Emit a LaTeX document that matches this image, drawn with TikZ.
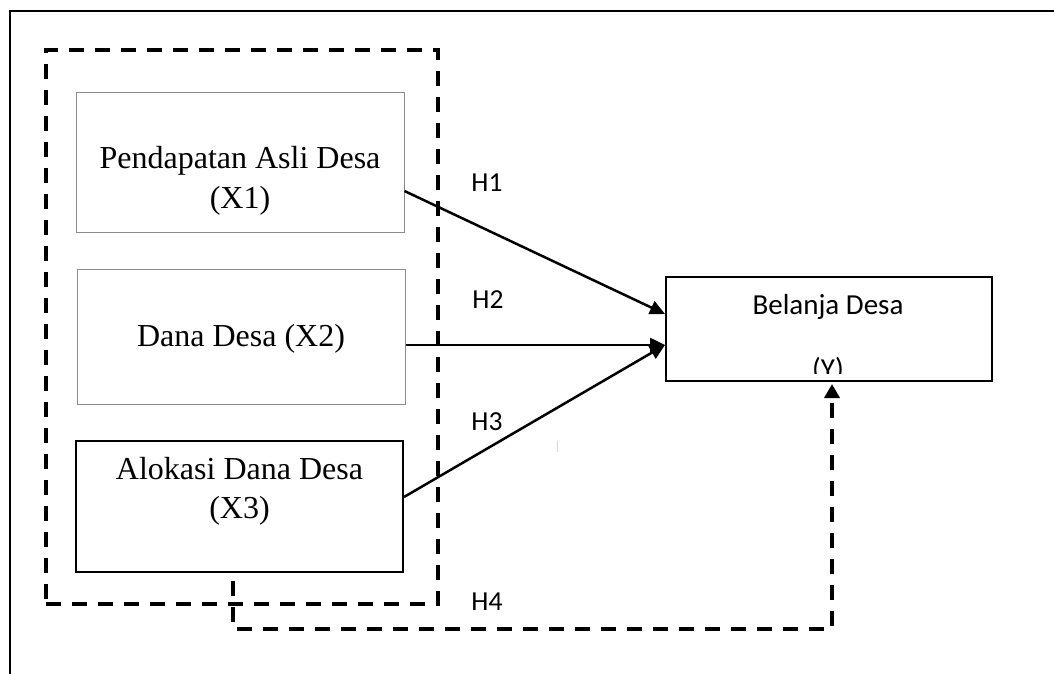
\documentclass[tikz,border=0pt]{standalone}
\usepackage{fontspec}
\setmainfont{Liberation Serif}
\newfontfamily\calib{Carlito}
\usetikzlibrary{arrows.meta}
\begin{document}
\begin{tikzpicture}[x=1pt,y=-1pt,
  varbox/.style={draw,rectangle,inner sep=0pt},
  greybox/.style={varbox,draw=black!45,line width=1pt},
  blackbox/.style={varbox,draw=black,line width=2pt},
  serif/.style={font=\fontsize{32}{40}\selectfont,inner sep=0pt,anchor=base},
  sanslbl/.style={font=\calib\fontsize{27.5}{30}\selectfont,inner sep=0pt},
  ylbl/.style={font=\calib\fontsize{29}{32}\selectfont,inner sep=0pt,anchor=base},
  groupbox/.style={draw,rectangle,line width=3.5pt,dash pattern=on 15pt off 11pt,inner sep=0pt},
  dashline/.style={line width=3.5pt,dash pattern=on 15pt off 11pt},
  arr/.style={line width=2.5pt,-{Triangle[length=15pt,width=14pt]}},
  darr/.style={dashline,-{Triangle[length=14pt,width=15pt]}}
]
\useasboundingbox (0,0) rectangle (1054,674);
% outer frame (top and left edges)
\draw[line width=2pt] (10,674) -- (10,11) -- (1054,11);

% dashed group box
\node[groupbox,minimum width=392pt,minimum height=554pt] (grp) at (242,327) {};

% variable boxes
\node[greybox,minimum width=328pt,minimum height=139pt,fill=white] (X1) at (240,162.5) {};
\node[greybox,minimum width=328pt,minimum height=135pt,fill=white] (X2) at (241,336.5) {};
\node[blackbox,minimum width=327pt,minimum height=131pt,fill=white] (X3) at (239.5,506.5) {};
\node[blackbox,minimum width=326pt,minimum height=104pt] (Y) at (829,329) {};

% box texts
\node[serif] (t1a) at (240,168) {Pendapatan Asli Desa};
\node[serif] (t1b) at (240,208) {(X1)};
\node[serif] (t2) at (241,346) {Dana Desa (X2)};
\node[serif] (t3a) at (239.5,479) {Alokasi Dana Desa};
\node[serif] (t3b) at (239.5,518) {(X3)};
\node[ylbl] (ty1) at (828,314) {Belanja Desa};
\begin{scope}
  \clip (670,330) rectangle (990,373);
  \node[ylbl] (ty2) at (828,378) {(Y)};
\end{scope}

% hypothesis arrows
\draw[arr] ([yshift=-28.5pt]X1.east) -- ([yshift=15pt]Y.west);
\draw[arr] ([yshift=-8.5pt]X2.east) -- ([yshift=-16pt]Y.west);
\draw[arr] ([yshift=9.5pt]X3.east) -- ([yshift=-16pt]Y.west);

% H4 dashed connector
\coordinate (h4s) at (233,581);
\coordinate (h4c) at (832,629);
\draw[darr] (h4s) |- (h4c) -- ([yshift=-2pt]h4c |- Y.south);

% labels
\node[sanslbl] (H1) at (487,183) {H1};
\node[sanslbl] (H2) at (488,300) {H2};
\node[sanslbl] (H3) at (487,422) {H3};
\node[sanslbl] (H4) at (487,602) {H4};

% faint tick
\draw[black!15,line width=0.8pt] (557,441) -- (557,452);
\end{tikzpicture}
\end{document}
